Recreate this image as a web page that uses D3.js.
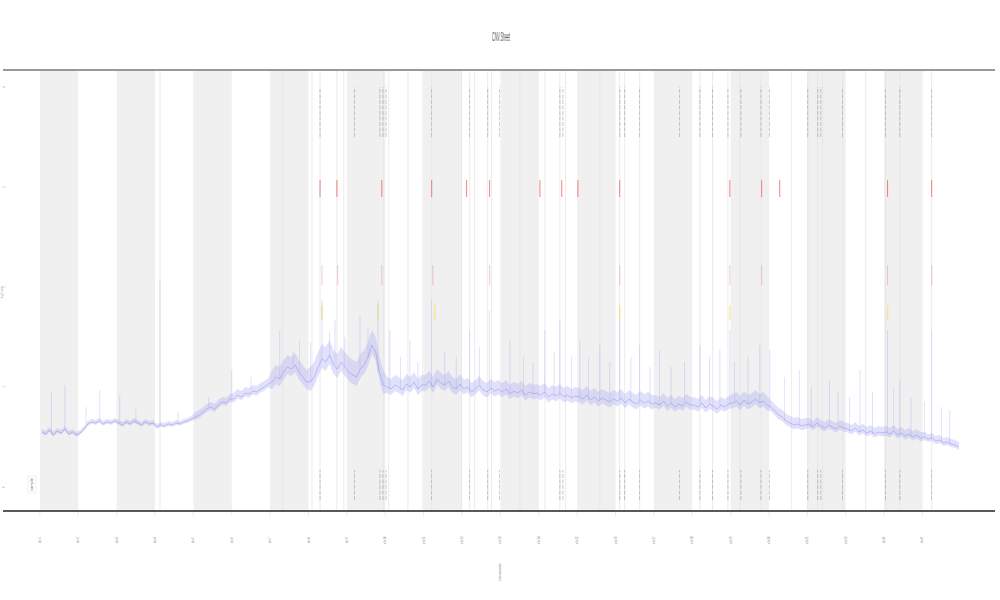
<!DOCTYPE html>
<html><head><meta charset="utf-8">
<script src="https://cdn.jsdelivr.net/npm/d3@7"></script>
<style>body{margin:0;background:#fff}svg{display:block}</style>
</head><body>
<svg id="c" width="1000" height="600"></svg>
<script>
// ---- data ----
const chromosomes = ["1","2","3","4","5","6","7","8","9","10","11","12","13","14","15","16","17","18","19","20","21","22","X","Y"];
const yTicks = [0,1,2,3,4];
const titleText = "CNV.Sheet";
const xLabel = "chromosome";
const yLabel = "log2 ratio";
// copy-number signal, 10 samples per chromosome
const signal = [
 0.55,0.53,0.57,0.52,0.56,0.54,0.58,0.53,0.55,0.52,
 0.54,0.58,0.63,0.65,0.64,0.66,0.63,0.65,0.64,0.66,
 0.64,0.62,0.65,0.63,0.66,0.64,0.62,0.65,0.63,0.64,
 0.60,0.62,0.61,0.63,0.62,0.64,0.63,0.65,0.66,0.68,
 0.70,0.72,0.75,0.78,0.80,0.78,0.82,0.85,0.84,0.88,
 0.88,0.92,0.90,0.94,0.93,0.96,0.95,0.98,1.00,1.03,
 1.05,1.10,1.08,1.15,1.20,1.18,1.22,1.15,1.10,1.05,
 1.05,1.10,1.20,1.28,1.25,1.32,1.22,1.18,1.25,1.20,
 1.15,1.12,1.10,1.18,1.22,1.30,1.42,1.35,1.15,1.02,
 1.00,0.98,1.02,1.00,0.97,1.03,1.00,1.05,0.98,1.02,
 1.02,1.06,1.00,1.08,1.04,1.02,1.06,1.00,0.98,1.03,
 0.98,1.00,0.95,0.98,1.02,0.97,0.95,0.99,0.96,0.98,
 0.95,0.98,0.93,0.96,0.94,0.97,0.92,0.95,0.93,0.94,
 0.92,0.95,0.90,0.93,0.91,0.94,0.90,0.92,0.89,0.91,
 0.90,0.88,0.92,0.87,0.90,0.86,0.89,0.87,0.85,0.88,
 0.86,0.89,0.84,0.88,0.85,0.83,0.87,0.84,0.86,0.83,
 0.84,0.82,0.86,0.81,0.84,0.80,0.83,0.81,0.85,0.82,
 0.82,0.80,0.84,0.79,0.83,0.81,0.78,0.82,0.80,0.83,
 0.84,0.86,0.82,0.87,0.83,0.85,0.88,0.84,0.86,0.82,
 0.80,0.76,0.72,0.70,0.66,0.64,0.62,0.63,0.61,0.62,
 0.63,0.60,0.64,0.61,0.59,0.62,0.60,0.58,0.61,0.59,
 0.58,0.56,0.59,0.55,0.57,0.54,0.56,0.53,0.55,0.54,
 0.55,0.53,0.56,0.52,0.54,0.51,0.53,0.50,0.52,0.49,
 0.50,0.48,0.49,0.46,0.47,0.44,0.45,0.43,0.42,0.40
];
// scatter width of the signal, per chromosome
const spread = [0.03,0.03,0.03,0.03,0.05,0.06,0.12,0.15,0.15,0.10,0.10,0.09,0.09,0.09,0.09,0.09,0.08,0.08,0.09,0.07,0.06,0.06,0.06,0.05];
// single-probe spikes: genome position, value
const spikePos = [0.30,0.65,1.20,1.56,2.08,2.50,3.13,3.60,4.40,5.00,5.50,6.25,6.60,6.77,7.05,7.35,7.55,7.69,7.95,8.34,8.55,8.81,9.12,9.40,9.64,9.85,10.21,10.55,10.85,11.20,11.45,11.72,12.25,12.60,12.85,13.16,13.40,13.55,13.85,14.07,14.30,14.59,14.85,15.11,15.40,15.63,15.90,16.15,16.45,16.80,17.20,17.45,17.72,17.98,18.10,18.45,18.76,19.02,19.40,19.80,20.10,20.58,20.80,21.10,21.37,21.70,22.09,22.25,22.41,22.70,23.05,23.24,23.50,23.71];
const spikeVal = [0.95,1.02,0.80,0.97,0.92,0.78,2.07,0.75,0.90,1.17,1.10,1.57,1.35,1.47,1.45,1.87,1.55,1.67,1.50,1.72,1.60,1.87,1.57,1.30,1.47,1.25,1.87,1.35,1.30,1.57,1.40,1.77,1.47,1.30,1.25,1.57,1.35,1.67,1.30,1.47,1.30,1.42,1.25,1.67,1.30,1.42,1.20,1.37,1.20,1.25,1.42,1.30,1.37,1.57,1.25,1.30,1.42,1.37,1.10,1.17,1.00,1.07,0.95,0.90,1.17,0.95,1.57,1.00,1.07,0.90,0.85,1.57,0.80,0.77];
// event tracks (genome positions)
const blackMarks = [7.30,8.20,8.86,8.94,9.02,10.21,11.20,11.67,11.98,13.55,13.63,15.11,15.24,15.63,16.67,17.20,17.53,17.93,18.27,18.79,19.01,20.01,20.27,20.35,20.92,22.04,22.41,23.24];
const redUpper = [7.30,7.74,8.91,10.21,11.12,11.72,13.03,13.60,14.02,15.11,17.98,18.81,19.28,22.09,23.24];
const redLower = [7.35,7.76,8.91,10.24,11.72,15.11,17.98,18.81,22.09,23.24];
const yellowMarks = [7.35,8.81,10.29,15.11,17.98,22.09];
const probeLines = [3.13,6.33,7.09,7.30,7.74,7.92,8.96,9.09,9.59,9.98,10.21,10.99,11.20,11.33,11.67,11.77,12.51,13.16,13.55,13.70,14.59,15.11,15.24,15.63,17.20,17.53,17.93,18.24,18.79,19.59,20.01,20.27,20.40,20.92,21.52,22.04,22.41,23.24];

// ---- chart ----
const svg = d3.select("#c");
const x = d3.scaleLinear().domain([-0.91, 24.89]).range([5, 995]);
const y = d3.scaleLinear().domain([-0.24, 4.17]).range([511, 70]);
const yTop = y.range()[1], yBot = y.range()[0];
const font = "Liberation Sans, sans-serif";

// alternating chromosome bands
svg.append("g").selectAll("rect").data(chromosomes.map((c,i)=>i).filter(i=>i%2===0))
  .join("rect")
  .attr("x", i=>x(i)).attr("width", i=>x(i+1)-x(i))
  .attr("y", yTop).attr("height", yBot-yTop).attr("fill", "#f0f0f0");

// probe lines
svg.append("g").selectAll("line").data(probeLines).join("line")
  .attr("x1", d=>x(d)).attr("x2", d=>x(d)).attr("y1", yTop).attr("y2", yBot)
  .attr("stroke", "#e2e2e2").attr("stroke-width", 0.7);

// event tracks
function marks(data, v0, v1, color, w, dash, op){
  svg.append("g").selectAll("line").data(data).join("line")
    .attr("x1", d=>x(d)).attr("x2", d=>x(d)).attr("y1", y(v0)).attr("y2", y(v1))
    .attr("stroke", color).attr("stroke-width", w).attr("stroke-dasharray", dash).attr("opacity", op);
}
marks(blackMarks, 3.50, 4.00, "#666", 0.6, "4,1.5", 0.6);
marks(blackMarks, -0.13, 0.17, "#666", 0.6, "4,1.5", 0.6);
marks(redUpper, 2.90, 3.07, "#e04848", 1, null, 0.65);
marks(redLower, 2.02, 2.22, "#e88080", 0.9, null, 0.45);
marks(yellowMarks, 1.67, 1.82, "#f2e24a", 1.3, null, 0.6);

// signal
const sx = (i)=> Math.floor(i/10) + (i%10 + 0.5)/10;
const sp = (i)=> spread[Math.floor(i/10)];
// spikes
svg.append("g").selectAll("line").data(spikePos).join("line")
  .attr("x1", d=>x(d)).attr("x2", d=>x(d))
  .attr("y1", d=>y(signal[Math.min(signal.length-1, Math.max(0, Math.round(d*10-0.5)))]))
  .attr("y2", (d,i)=>y(spikeVal[i]))
  .attr("stroke", "#9a9af2").attr("stroke-width", 0.6).attr("opacity", 0.5);
// scatter band
const band = d3.area().x((d,i)=>x(sx(i))).y0((d,i)=>y(d - sp(i)*0.6)).y1((d,i)=>y(d + sp(i)));
svg.append("path").datum(signal).attr("d", band)
  .attr("fill", "#a8a8f4").attr("opacity", 0.35);
const line = d3.line().x((d,i)=>x(sx(i))).y(d=>y(d));
svg.append("path").datum(signal).attr("d", line)
  .attr("fill", "none").attr("stroke", "#7070e8").attr("stroke-width", 0.6).attr("opacity", 0.6);

// frame lines
svg.append("line").attr("x1",3).attr("x2",995).attr("y1",yTop).attr("y2",yTop).attr("stroke","#999").attr("stroke-width",2);
svg.append("line").attr("x1",3).attr("x2",995).attr("y1",yBot).attr("y2",yBot).attr("stroke","#222").attr("stroke-width",1.4);

// x axis ticks + labels
const xt = svg.append("g");
xt.selectAll("line").data(chromosomes.map((c,i)=>i)).join("line")
  .attr("x1", i=>x(i)).attr("x2", i=>x(i)).attr("y1", yBot+1).attr("y2", yBot+5)
  .attr("stroke","#ddd").attr("stroke-width",0.6);
xt.selectAll("text").data(chromosomes).join("text")
  .attr("transform",(d,i)=>`translate(${x(i)+1},${540}) rotate(-90)`)
  .attr("text-anchor","middle").attr("font-family",font)
  .attr("font-size",3).attr("fill","#888").text(d=>"chr"+d);

svg.append("text").attr("transform","translate(501,572) rotate(-90)")
  .attr("text-anchor","middle").attr("font-family",font)
  .attr("font-size",3).attr("fill","#888").text(xLabel);

// y tick labels
svg.append("g").selectAll("text").data(yTicks).join("text")
  .attr("transform", d=>`translate(5,${y(d)}) rotate(-90)`)
  .attr("text-anchor","middle").attr("font-family",font)
  .attr("font-size",3).attr("fill","#aaa").text(d=>d);
svg.append("text").attr("transform","translate(3,292) rotate(-90)")
  .attr("text-anchor","middle").attr("font-family",font)
  .attr("font-size",3).attr("fill","#aaa").text(yLabel);

// legend
svg.append("rect").attr("x",28).attr("y",476).attr("width",8).attr("height",17)
  .attr("fill","#fff").attr("stroke","#ddd").attr("stroke-width",0.5);
svg.append("text").attr("transform","translate(33,484.5) rotate(-90)")
  .attr("text-anchor","middle").attr("font-family",font)
  .attr("font-size",4).attr("fill","#666").text("sample");

// title
svg.append("text").attr("x",501).attr("y",41).attr("text-anchor","middle")
  .attr("font-family","Liberation Sans Narrow, Liberation Sans, sans-serif")
  .attr("font-size",12).attr("fill","#555")
  .attr("textLength",18).attr("lengthAdjust","spacingAndGlyphs").text(titleText);
</script>
</body></html>
